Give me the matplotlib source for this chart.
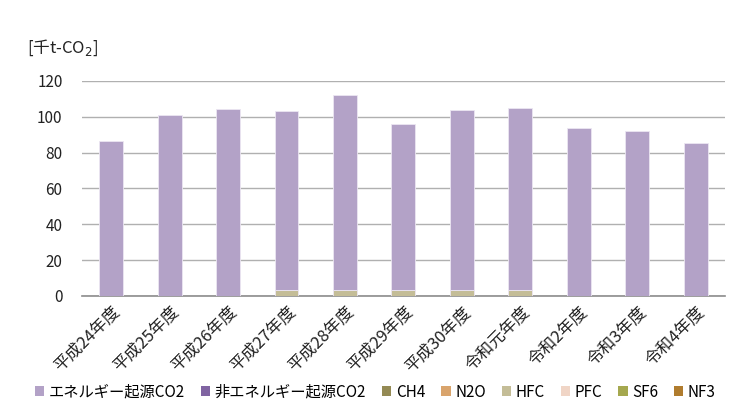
import numpy as np
import matplotlib.pyplot as plt
from matplotlib.patches import Patch

plt.rcParams['font.family'] = ['Noto Sans CJK JP', 'DejaVu Sans']

# ===== データ =====
years = ['平成24年度', '平成25年度', '平成26年度', '平成27年度', '平成28年度',
         '平成29年度', '平成30年度', '令和元年度', '令和2年度', '令和3年度', '令和4年度']
energy_co2 = [86.5, 101.0, 104.3, 100.0, 108.8, 92.8, 100.5, 102.0, 93.8, 92.2, 85.3]
non_energy_co2 = [0, 0, 0, 0, 0, 0, 0, 0, 0, 0, 0]
ch4 = [0, 0, 0, 0, 0, 0, 0, 0, 0, 0, 0]
n2o = [0, 0, 0, 0, 0, 0, 0, 0, 0, 0, 0]
hfc = [0, 0, 0, 3.2, 3.2, 3.2, 3.2, 3.2, 0, 0, 0]
pfc = [0, 0, 0, 0, 0, 0, 0, 0, 0, 0, 0]
sf6 = [0, 0, 0, 0, 0, 0, 0, 0, 0, 0, 0]
nf3 = [0, 0, 0, 0, 0, 0, 0, 0, 0, 0, 0]

series_names = ['エネルギー起源CO2', '非エネルギー起源CO2', 'CH4', 'N2O',
                'HFC', 'PFC', 'SF6', 'NF3']
series_values = [energy_co2, non_energy_co2, ch4, n2o, hfc, pfc, sf6, nf3]
series_colors = ['#b3a2c7', '#8064a2', '#948a54', '#d9a46c',
                 '#c4bd97', '#f0d5c6', '#a5a84f', '#b07c2e']

# ===== 描画 =====
fig = plt.figure(figsize=(7.48, 4.19), dpi=100)
ax = fig.add_axes([0.1096, 0.2936, 0.8594, 0.5131])

x = np.arange(len(years))
bottom = np.zeros(len(years))
# 積み上げは凡例の逆順（NF3が一番下）
for name, vals, col in reversed(list(zip(series_names, series_values, series_colors))):
    vals = np.array(vals, dtype=float)
    ax.bar(x, vals, width=0.41, bottom=bottom, color=col,
           edgecolor='#ece6f2', linewidth=0.6, zorder=3)
    bottom += vals

ax.set_xlim(-0.5, len(years) - 0.5)
ax.set_ylim(0, 120)
ax.set_yticks(np.arange(0, 121, 20))
ax.yaxis.grid(True, color='#b0b0b0', linewidth=1.0, zorder=0)
ax.set_axisbelow(True)
for s in ['top', 'right', 'left']:
    ax.spines[s].set_visible(False)
ax.spines['bottom'].set_color('#8c8c8c')
ax.spines['bottom'].set_linewidth(1.2)
ax.tick_params(axis='both', length=0, labelsize=11, colors='#222222')
ax.tick_params(axis='y', pad=14)
ax.tick_params(axis='x', pad=5)
ax.set_xticks(x)
ax.set_xticklabels(years, rotation=45, ha='right', rotation_mode='anchor', fontsize=12)

# 単位
fig.text(0.036, 0.885, '[千t-CO$_2$]', fontsize=12, color='#222222',
         ha='left', va='center')

# 凡例
handles = [Patch(facecolor=c, edgecolor='none', label=n)
           for n, c in zip(series_names, series_colors)]
fig.legend(handles=handles, loc='center', bbox_to_anchor=(0.502, 0.064),
           ncol=8, frameon=False, fontsize=11, handlelength=0.6,
           handleheight=0.6, handletextpad=0.3, columnspacing=1.05)

fig.savefig('out.png', dpi=100, facecolor='white')
